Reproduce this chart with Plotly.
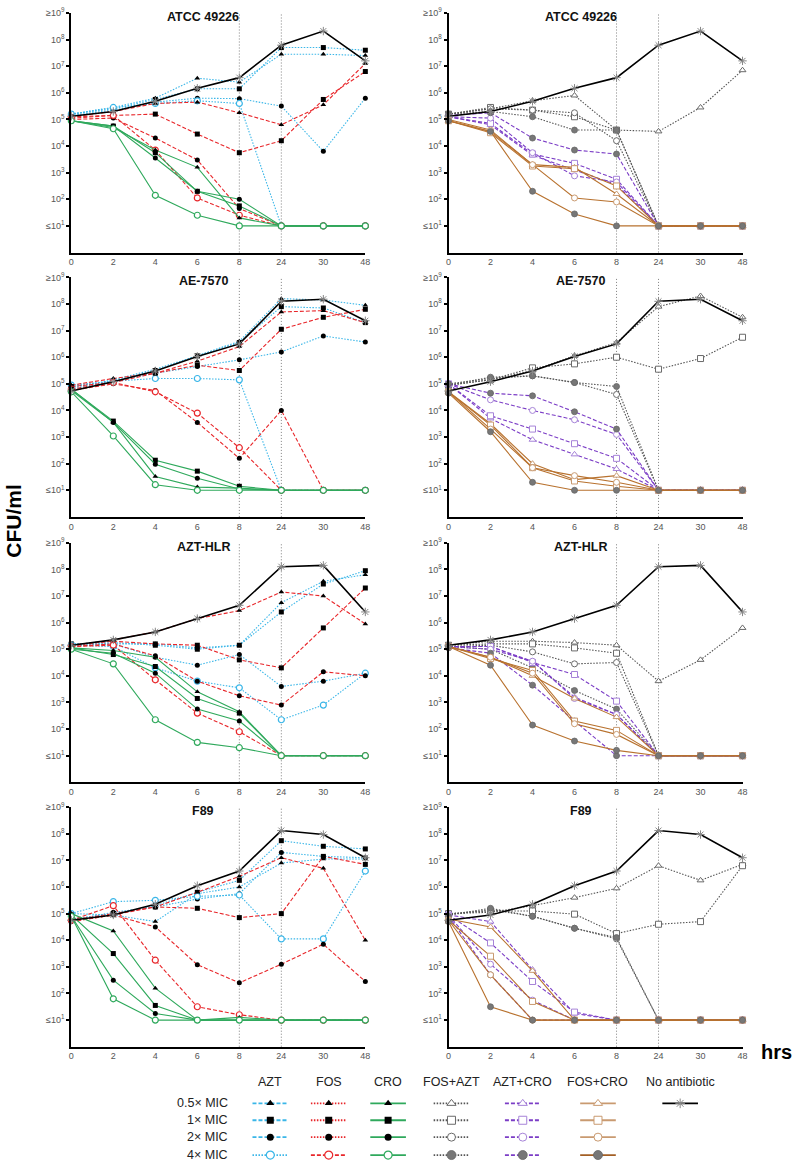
import plotly.graph_objects as go

# time points (hrs) - plotted as evenly spaced categories
hours = ["0", "2", "4", "6", "8", "24", "30", "48"]
strains = ["ATCC 49226", "AE-7570", "AZT-HLR", "F89"]
mic_levels = ["0.5× MIC", "1× MIC", "2× MIC", "4× MIC"]

# log10 CFU/ml; inner lists = 0.5x, 1x, 2x, 4x MIC
atcc_none = [5.12, 5.3, 5.68, 6.17, 6.57, 7.79, 8.32, 7.2]
atcc_azt = [[5.2, 5.45, 5.8, 6.55, 6.4, 7.45, 7.45, 7.4],
            [5.2, 5.4, 5.75, 6.15, 6.15, 7.7, 7.7, 7.6],
            [5.15, 5.35, 5.65, 5.8, 5.78, 5.5, 3.8, 5.8],
            [5.2, 5.45, 5.6, 5.7, 5.6, 1, 1, 1]]
atcc_fos = [[5.1, 5.3, 5.6, 5.65, 5.25, 4.8, 5.55, 7.1],
            [5.1, 5.15, 5.2, 4.45, 3.75, 4.2, 5.75, 6.8],
            [5.0, 5.05, 4.3, 3.48, 1.65, 1, 1, 1],
            [5.05, 5.15, 3.85, 2.05, 1.4, 1, 1, 1]]
atcc_cro = [[4.95, 4.7, 3.85, 3.2, 1.3, 1, 1, 1],
            [4.95, 4.75, 3.75, 2.3, 1.75, 1, 1, 1],
            [4.95, 4.75, 3.55, 2.3, 2.0, 1, 1, 1],
            [4.95, 4.65, 2.15, 1.4, 1.0, 1, 1, 1]]
atcc_fos_azt = [[5.2, 5.4, 5.7, 5.9, 4.6, 4.55, 5.45, 6.85],
                [5.2, 5.45, 5.35, 5.1, 4.6, 1, 1, 1],
                [5.2, 5.4, 5.35, 5.25, 4.2, 1, 1, 1],
                [5.2, 5.3, 5.1, 4.6, 4.6, 1, 1, 1]]
atcc_azt_cro = [[5.1, 4.8, 3.65, 3.1, 2.55, 1, 1, 1],
                [5.1, 4.85, 3.7, 3.35, 2.75, 1, 1, 1],
                [5.1, 5.05, 3.75, 2.88, 2.65, 1, 1, 1],
                [5.15, 5.25, 4.3, 3.85, 3.7, 1, 1, 1]]
atcc_fos_cro = [[4.95, 4.55, 3.3, 3.2, 2.2, 1, 1, 1],
                [4.95, 4.5, 3.25, 3.15, 2.5, 1, 1, 1],
                [5.0, 4.6, 3.3, 2.05, 1.9, 1, 1, 1],
                [4.95, 4.55, 2.3, 1.45, 1.0, 1, 1, 1]]

ae_none = [4.73, 5.08, 5.48, 6.03, 6.5, 8.1, 8.18, 7.37]
ae_azt = [[4.85, 5.15, 5.55, 6.05, 6.6, 8.2, 8.15, 7.95],
          [4.8, 5.1, 5.5, 6.05, 6.55, 7.9, 7.85, 7.3],
          [4.9, 5.1, 5.4, 5.65, 5.9, 6.2, 6.8, 6.57],
          [4.95, 5.1, 5.2, 5.2, 5.15, 1, 1, 1]]
ae_fos = [[4.95, 5.2, 5.4, 5.85, 6.4, 7.7, 7.75, 7.3],
          [4.9, 5.05, 5.4, 5.7, 5.5, 7.05, 7.5, 7.8],
          [4.75, 5.0, 4.75, 3.55, 2.2, 4.0, 1, 1],
          [4.8, 5.05, 4.7, 3.9, 2.6, 1, 1, 1]]
ae_cro = [[4.8, 3.55, 1.52, 1.12, 1.08, 1, 1, 1],
          [4.8, 3.6, 2.13, 1.72, 1.15, 1, 1, 1],
          [4.75, 3.55, 1.98, 1.45, 1.05, 1, 1, 1],
          [4.7, 3.04, 1.21, 1.0, 1.0, 1, 1, 1]]
ae_fos_azt = [[4.95, 5.15, 5.5, 6.05, 6.55, 7.9, 8.3, 7.5],
              [4.95, 5.15, 5.6, 5.75, 6.0, 5.55, 5.95, 6.75],
              [5.0, 5.2, 5.3, 5.05, 4.6, 1, 1, 1],
              [4.95, 5.25, 5.3, 5.05, 4.9, 1, 1, 1]]
ae_azt_cro = [[5.0, 3.7, 2.9, 2.35, 1.8, 1, 1, 1],
              [5.0, 3.8, 3.3, 2.75, 2.2, 1, 1, 1],
              [5.0, 4.4, 4.0, 3.65, 3.1, 1, 1, 1],
              [5.0, 4.65, 4.55, 3.95, 3.3, 1, 1, 1]]
ae_fos_cro = [[4.7, 3.5, 2.0, 1.4, 1.55, 1, 1, 1],
              [4.7, 3.45, 1.85, 1.35, 1.15, 1, 1, 1],
              [4.7, 3.3, 1.85, 1.55, 1.3, 1, 1, 1],
              [4.65, 3.2, 1.3, 1.0, 1.0, 1, 1, 1]]

hlr_none = [5.15, 5.35, 5.65, 6.15, 6.65, 8.1, 8.15, 6.4]
hlr_azt = [[5.15, 5.2, 5.2, 5.05, 5.15, 6.75, 7.55, 7.8],
           [5.2, 5.25, 5.15, 5.0, 5.15, 6.4, 7.45, 7.95],
           [5.2, 5.2, 4.7, 4.4, 4.8, 3.6, 3.8, 4.1],
           [5.15, 5.1, 4.3, 3.8, 3.55, 2.35, 2.9, 4.1]]
hlr_fos = [[5.15, 5.35, 5.65, 6.15, 6.45, 7.15, 7.0, 5.95],
           [5.15, 5.3, 5.2, 5.15, 4.6, 4.3, 5.8, 7.3],
           [5.1, 5.2, 4.75, 3.8, 3.25, 2.9, 4.15, 4.0],
           [5.1, 5.15, 3.85, 2.6, 1.9, 1, 1, 1]]
hlr_cro = [[5.05, 4.95, 4.7, 3.4, 2.65, 1, 1, 1],
           [5.05, 4.8, 4.35, 3.15, 2.6, 1, 1, 1],
           [5.0, 4.85, 4.1, 2.75, 2.3, 1, 1, 1],
           [5.0, 4.45, 2.35, 1.5, 1.3, 1, 1, 1]]
hlr_fos_azt = [[5.15, 5.3, 5.3, 5.25, 5.15, 3.8, 4.6, 5.8],
               [5.15, 5.2, 5.2, 5.05, 4.85, 1, 1, 1],
               [5.1, 5.15, 4.9, 4.45, 4.5, 1, 1, 1],
               [5.1, 5.0, 4.3, 3.45, 2.75, 1, 1, 1]]
hlr_azt_cro = [[5.1, 5.1, 4.55, 3.2, 2.55, 1, 1, 1],
               [5.1, 5.1, 4.5, 4.05, 3.05, 1, 1, 1],
               [5.1, 5.0, 4.55, 3.15, 2.55, 1, 1, 1],
               [5.05, 4.85, 3.65, 2.3, 1.0, 1, 1, 1]]
hlr_fos_cro = [[5.1, 4.7, 4.0, 3.15, 2.45, 1, 1, 1],
               [5.1, 4.65, 4.2, 2.3, 1.95, 1, 1, 1],
               [5.1, 4.7, 4.1, 2.2, 1.8, 1, 1, 1],
               [5.1, 4.4, 2.15, 1.55, 1.2, 1, 1, 1]]

f89_none = [4.75, 4.95, 5.35, 6.05, 6.6, 8.12, 7.97, 7.1]
f89_azt = [[5.0, 4.95, 4.7, 5.75, 6.0, 6.9, 7.05, 7.05],
           [4.8, 5.0, 5.3, 5.8, 6.25, 7.74, 7.53, 7.43],
           [4.75, 5.05, 5.25, 5.55, 5.75, 7.3, 7.15, 7.1],
           [5.0, 5.45, 5.5, 5.65, 5.7, 4.05, 4.05, 6.6]]
f89_fos = [[4.7, 4.95, 5.25, 5.8, 6.4, 7.1, 6.7, 4.0],
           [4.75, 5.0, 5.25, 5.2, 4.85, 5.0, 7.15, 6.85],
           [4.7, 4.95, 4.5, 3.08, 2.4, 3.1, 3.85, 2.45],
           [4.75, 5.3, 3.25, 1.5, 1.2, 1, 1, 1]]
f89_cro = [[5.0, 4.35, 2.2, 1.0, 1.1, 1, 1, 1],
           [4.95, 3.5, 1.55, 1.0, 1.0, 1, 1, 1],
           [4.9, 2.5, 1.25, 1.0, 1.0, 1, 1, 1],
           [4.9, 1.8, 1.0, 1.0, 1.0, 1, 1, 1]]
f89_fos_azt = [[5.0, 5.05, 5.3, 5.6, 5.95, 6.8, 6.25, 6.85],
               [5.0, 5.1, 5.1, 4.98, 4.25, 4.6, 4.7, 6.8],
               [4.95, 5.15, 4.9, 4.45, 4.05, 1, 1, 1],
               [4.95, 5.2, 4.9, 4.45, 4.1, 1, 1, 1]]
f89_azt_cro = [[4.95, 4.7, 2.9, 1.25, 1.0, 1, 1, 1],
               [4.95, 3.9, 2.45, 1.3, 1.0, 1, 1, 1],
               [4.95, 3.1, 1.75, 1.0, 1.0, 1, 1, 1],
               [4.9, 2.7, 1.0, 1.0, 1.0, 1, 1, 1]]
f89_fos_cro = [[4.8, 4.5, 2.85, 1.0, 1.0, 1, 1, 1],
               [4.75, 3.4, 1.7, 1.0, 1.0, 1, 1, 1],
               [4.75, 2.7, 1.0, 1.0, 1.0, 1, 1, 1],
               [4.7, 1.5, 1.0, 1.0, 1.0, 1, 1, 1]]

W, H = 800, 1162
FONT = "Liberation Sans, Arial, sans-serif"
COLS = [(69, 366), (450, 747)]                       # pixel extent of plot areas
ROWS = [(6, 247), (272, 513), (539, 780), (805, 1046)]

BLUE, RED, GREEN = "#3ab6e8", "#e8262a", "#2fa95c"
GREY, PURPLE, BROWN = "#555555", "#7b3dc6", "#b8722f"
SYMS = ["triangle-up", "square", "circle"]
DOT, DASH = "1.5px,1.5px", "4px,2px"

# (name, line colour, dash in plot, open-marker colour)
left_drugs = [("AZT", BLUE, DOT), ("FOS", RED, DASH), ("CRO", GREEN, "solid")]
right_drugs = [("FOS+AZT", GREY, DOT, "#6a6a6a"),
               ("AZT+CRO", PURPLE, DASH, "#a683d8"),
               ("FOS+CRO", BROWN, "solid", "#c99a70")]

panels = [
    (atcc_none, [atcc_azt, atcc_fos, atcc_cro], [atcc_fos_azt, atcc_azt_cro, atcc_fos_cro]),
    (ae_none, [ae_azt, ae_fos, ae_cro], [ae_fos_azt, ae_azt_cro, ae_fos_cro]),
    (hlr_none, [hlr_azt, hlr_fos, hlr_cro], [hlr_fos_azt, hlr_azt_cro, hlr_fos_cro]),
    (f89_none, [f89_azt, f89_fos, f89_cro], [f89_fos_azt, f89_azt_cro, f89_fos_cro]),
]


def px(x, y):
    return x / W, 1 - y / H


def text(s, x, y, size, xanchor="center", **kw):
    tx, ty = px(x, y)
    return dict(text=s, x=tx, y=ty, xref="paper", yref="paper", xanchor=xanchor, yanchor="middle",
                showarrow=False, font=dict(size=size, color=kw.pop("color", "#222222"), family=FONT), **kw)


def left_marker(color, lvl, size=5):
    if lvl < 3:
        return dict(symbol=SYMS[lvl], color="black", size=size, line=dict(width=0))
    return dict(symbol="circle", color="white", size=size + 1, line=dict(color=color, width=1.2))


def right_marker(open_color, lvl, size=6):
    if lvl < 3:
        return dict(symbol=SYMS[lvl], color="white", size=size, line=dict(color=open_color, width=1))
    return dict(symbol="circle", color="#777777", size=size, line=dict(color="#666666", width=0.8))


NONE_MARKER = dict(symbol="asterisk-open", size=7, color="#888888", line=dict(color="#888888", width=1))

fig = go.Figure()
layout = {}
shapes = []
annotations = []
i8, i24 = hours.index("8"), hours.index("24")

for r, (none_vals, lvals, rvals) in enumerate(panels):
    for c in range(2):
        n = r * 2 + c + 1
        sfx = "" if n == 1 else str(n)
        xr, yr = "x" + sfx, "y" + sfx
        x0, x1 = COLS[c]
        y0, y1 = ROWS[r]

        layout["xaxis" + sfx] = dict(
            domain=[x0 / W, x1 / W], anchor=yr, type="category",
            categoryorder="array", categoryarray=hours, range=[0, 7],
            showline=True, linecolor="black", linewidth=2, ticks="",
            showgrid=False, zeroline=False,
            tickfont=dict(size=9, color="#555555", family=FONT))
        layout["yaxis" + sfx] = dict(
            domain=[1 - y1 / H, 1 - y0 / H], anchor=xr, type="log", range=[0, 9],
            tickvals=[10 ** k for k in range(1, 10)],
            ticktext=["≤10<sup>1</sup>"] + ["10<sup>%d</sup>" % k for k in range(2, 9)] + ["≥10<sup>9</sup>"],
            showline=True, linecolor="black", linewidth=2,
            ticks="outside", ticklen=3, tickcolor="black", tickwidth=1.5,
            showgrid=False, zeroline=False,
            tickfont=dict(size=9, color="#555555", family=FONT))

        for idx in (i8, i24):
            shapes.append(dict(type="line", xref=xr, yref=yr + " domain", x0=idx, x1=idx, y0=0, y1=1,
                               line=dict(color="#707070", width=0.9, dash="1px,2px"), layer="below"))

        if c == 0:
            for (name, color, dash), series in zip(left_drugs, lvals):
                for lvl, vals in enumerate(series):
                    fig.add_trace(go.Scatter(
                        x=hours, y=[10 ** v for v in vals], xaxis=xr, yaxis=yr,
                        mode="lines+markers", line=dict(color=color, width=1.1, dash=dash),
                        marker=left_marker(color, lvl), cliponaxis=False, showlegend=False,
                        name=f"{name} {mic_levels[lvl]}"))
        else:
            for (name, color, dash, ocol), series in zip(right_drugs, rvals):
                for lvl, vals in enumerate(series):
                    fig.add_trace(go.Scatter(
                        x=hours, y=[10 ** v for v in vals], xaxis=xr, yaxis=yr,
                        mode="lines+markers", line=dict(color=color, width=1.1, dash=dash),
                        marker=right_marker(ocol, lvl), cliponaxis=False, showlegend=False,
                        name=f"{name} {mic_levels[lvl]}"))

        fig.add_trace(go.Scatter(
            x=hours, y=[10 ** v for v in none_vals], xaxis=xr, yaxis=yr,
            mode="lines+markers", line=dict(color="black", width=1.6),
            marker=NONE_MARKER, cliponaxis=False, showlegend=False, name="No antibiotic"))

        annotations.append(text("<b>%s</b>" % strains[r], (x0 + x1) / 2 - 15, y0 + 4, 12.5, color="#111111"))

# ---- legend table drawn on a hidden pixel-coordinate axis ----
layout["xaxis9"] = dict(domain=[0, 1], range=[0, W], visible=False, anchor="y9", fixedrange=True)
layout["yaxis9"] = dict(domain=[0, 1], range=[H, 0], visible=False, anchor="x9", fixedrange=True)

leg_cols = [270, 329, 389, 453, 525, 601, 684]
leg_rows = [1103, 1120, 1137, 1155]
leg_head_y = 1082
leg_names = ["AZT", "FOS", "CRO", "FOS+AZT", "AZT+CRO", "FOS+CRO", "No antibiotic"]
leg_dash = {"AZT": [DASH, DASH, DASH, DOT], "FOS": [DOT, DOT, DOT, DASH],
            "CRO": ["solid"] * 4, "FOS+AZT": [DOT] * 4, "AZT+CRO": [DASH] * 4,
            "FOS+CRO": ["solid"] * 4}
leg_color = {"AZT": [BLUE] * 4, "FOS": [RED] * 4, "CRO": [GREEN] * 4, "FOS+AZT": [GREY] * 4,
             "AZT+CRO": [PURPLE] * 4, "FOS+CRO": ["#c99a70"] * 3 + ["#a35f25"]}
open_col = {"FOS+AZT": "#6a6a6a", "AZT+CRO": "#a683d8", "FOS+CRO": "#c99a70"}

for cx, name in zip(leg_cols, leg_names):
    annotations.append(text(name, cx, leg_head_y, 12.5))
    if name == "No antibiotic":
        fig.add_trace(go.Scatter(x=[cx - 18, cx, cx + 18], y=[leg_rows[0]] * 3, xaxis="x9", yaxis="y9",
                                 mode="lines+markers", line=dict(color="black", width=1.8),
                                 marker=dict(NONE_MARKER, size=8, opacity=[0, 1, 0]),
                                 showlegend=False, hoverinfo="skip"))
        continue
    for lvl, ry in enumerate(leg_rows):
        if name in ("AZT", "FOS", "CRO"):
            mk = left_marker(leg_color[name][0], lvl, size=7)
        else:
            mk = right_marker(open_col[name], lvl, size=8)
            if lvl == 3:
                mk["size"] = 9
        mk["opacity"] = [0, 1, 0]
        fig.add_trace(go.Scatter(x=[cx - 18, cx, cx + 18], y=[ry] * 3, xaxis="x9", yaxis="y9",
                                 mode="lines+markers",
                                 line=dict(color=leg_color[name][lvl], width=1.8, dash=leg_dash[name][lvl]),
                                 marker=mk, showlegend=False, hoverinfo="skip"))

for ry, lab in zip(leg_rows, mic_levels):
    annotations.append(text(lab, 229, ry, 12.5, xanchor="right"))

annotations.append(text("<b>CFU/ml</b>", 11, 517, 21, color="black", textangle=-90))
annotations.append(text("<b>hrs</b>", 781, 1051, 20, color="black"))

fig.update_layout(
    width=W, height=H, margin=dict(l=0, r=0, t=0, b=0),
    plot_bgcolor="rgba(0,0,0,0)", paper_bgcolor="white",
    shapes=shapes, annotations=annotations, showlegend=False,
    **layout)

fig.write_html("out.html", config={"displayModeBar": False},
               post_script="document.body.style.margin='0';")
